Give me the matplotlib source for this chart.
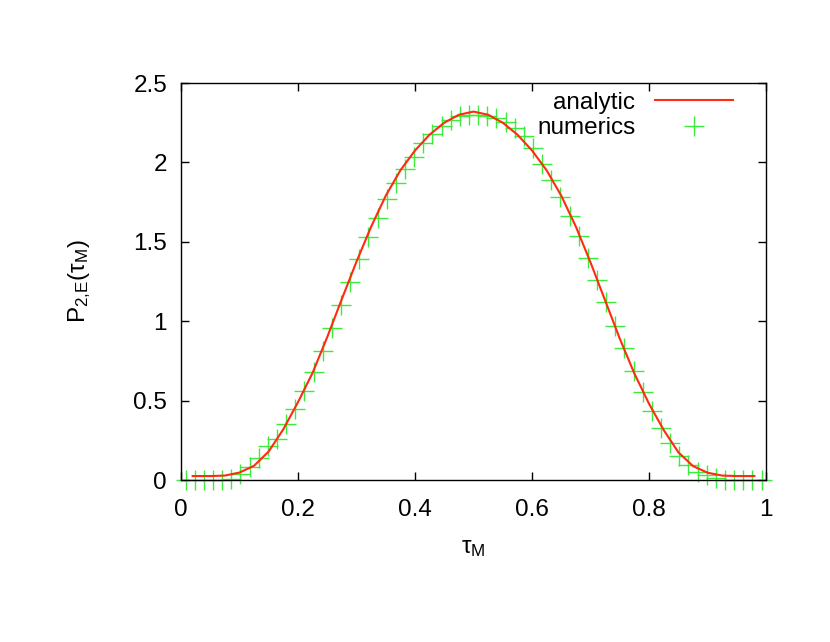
import matplotlib
matplotlib.use("Agg")
import matplotlib.pyplot as plt

plt.rcParams["font.family"] = ["Liberation Sans", "DejaVu Sans"]
plt.rcParams["mathtext.fontset"] = "custom"
plt.rcParams["mathtext.rm"] = "Liberation Sans"
plt.rcParams["mathtext.it"] = "Liberation Sans"

# analytic curve
tau_an = [0.02, 0.05, 0.075, 0.10, 0.125, 0.15, 0.175, 0.20, 0.225, 0.25,
          0.275, 0.30, 0.325, 0.35, 0.375, 0.40, 0.425, 0.45, 0.475, 0.50,
          0.525, 0.55, 0.575, 0.60, 0.625, 0.65, 0.675, 0.70, 0.725, 0.75,
          0.775, 0.80, 0.825, 0.85, 0.875, 0.90, 0.925, 0.95, 0.98]
p_an = [0.025, 0.025, 0.028, 0.047, 0.090, 0.180, 0.320, 0.490, 0.675, 0.900,
        1.140, 1.375, 1.595, 1.790, 1.950, 2.075, 2.175, 2.250, 2.300, 2.320,
        2.300, 2.250, 2.175, 2.075, 1.950, 1.790, 1.595, 1.370, 1.130, 0.890,
        0.670, 0.480, 0.315, 0.175, 0.088, 0.046, 0.028, 0.025, 0.025]

# numerics: 64 histogram bins
tau_num = [(i + 0.5) / 64 for i in range(64)]
p_num = [0.0, 0.0, 0.0, 0.0, 0.0, 0.008, 0.038, 0.08, 0.14, 0.215,
         0.26, 0.35, 0.445, 0.56, 0.68, 0.815, 0.955, 1.10, 1.25, 1.39,
         1.53, 1.65, 1.77, 1.87, 1.96, 2.035, 2.12, 2.18, 2.23, 2.265,
         2.29, 2.30, 2.30, 2.295, 2.278, 2.255, 2.215, 2.165, 2.09, 1.99,
         1.89, 1.78, 1.66, 1.535, 1.40, 1.26, 1.12, 0.97, 0.829, 0.686,
         0.552, 0.435, 0.33, 0.231, 0.151, 0.094, 0.052, 0.03, 0.01, 0.0,
         0.0, 0.0, 0.0, 0.0]

fig = plt.figure(figsize=(8.3, 6.42), dpi=100)
ax = fig.add_axes([0.218, 0.2523, 0.705, 0.6184])

ax.plot(tau_an, p_an, color="#ff2a10", lw=1.5, label="analytic", zorder=3)
ax.plot(tau_num, p_num, ls="none", marker="+", ms=14, mew=1.0,
        color="#3cec3c", label="numerics", zorder=2, clip_on=False)

ax.set_xlim(0, 1)
ax.set_ylim(0, 2.5)
ax.set_xticks([0, 0.2, 0.4, 0.6, 0.8, 1])
ax.set_xticklabels(["0", "0.2", "0.4", "0.6", "0.8", "1"])
ax.set_yticks([0, 0.5, 1, 1.5, 2, 2.5])
ax.set_yticklabels(["0", "0.5", "1", "1.5", "2", "2.5"])
ax.tick_params(direction="in", top=True, right=True, length=6, width=1,
               labelsize=17.5)
ax.tick_params(axis="x", pad=14)
ax.tick_params(axis="y", pad=10)
for s in ax.spines.values():
    s.set_linewidth(1.0)

ax.set_xlabel(r"τ$_{\mathrm{M}}$", fontsize=17.5, labelpad=11)
ax.set_ylabel(r"P$_{\mathrm{2{,}E}}$(τ$_{\mathrm{M}}$)", fontsize=17.5, labelpad=29)

ax.legend(loc="upper right", bbox_to_anchor=(0.98, 1.033), frameon=False,
          markerfirst=False, fontsize=17.5, handlelength=3.2, handletextpad=0.8,
          labelspacing=0.15)

fig.savefig("out.png", dpi=100)
